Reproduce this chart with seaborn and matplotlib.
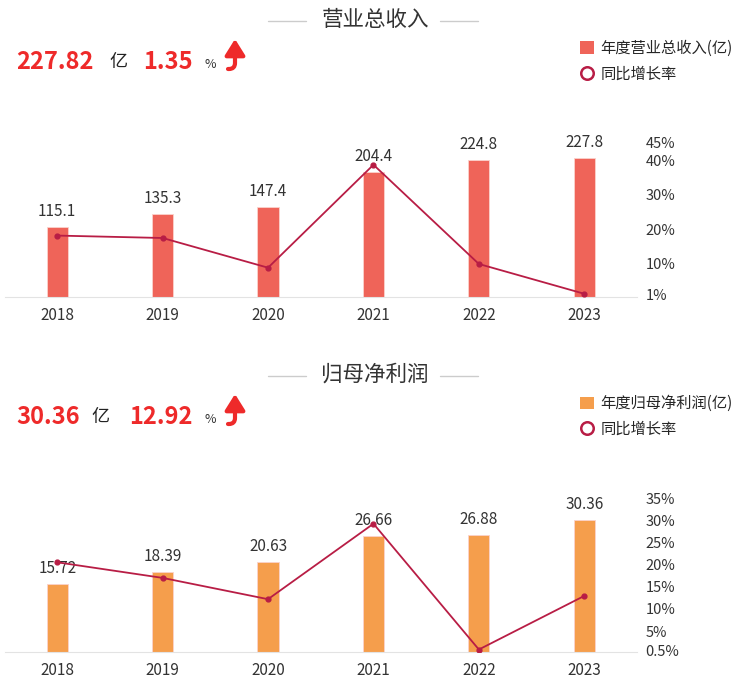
import matplotlib
matplotlib.use("Agg")
import matplotlib.pyplot as plt
from matplotlib.lines import Line2D
from matplotlib.patches import Patch
import seaborn as sns

sns.set_style("white")
plt.rcParams['font.family'] = ['Noto Sans CJK SC', 'DejaVu Sans']

# data
years = ['2018', '2019', '2020', '2021', '2022', '2023']
revenue = [115.1, 135.3, 147.4, 204.4, 224.8, 227.8]
revenue_growth = [18.2, 17.5, 8.9, 38.7, 9.98, 1.35]
revenue_ticks = [1, 10, 20, 30, 40, 45]
profit = [15.72, 18.39, 20.63, 26.66, 26.88, 30.36]
profit_growth = [20.5, 16.98, 12.18, 29.2, 0.83, 12.92]
profit_ticks = [0.5, 5, 10, 15, 20, 25, 30, 35]

W, H = 750, 697
red = '#ee2a2a'
line_color = '#b81d45'


def fx(x):
    return x / W


def fy(y):
    return 1 - y / H


def section(top, title, total, pct, bar_label, bar_color, values, growth,
            ticks, bar_max, growth_lim, fmt):
    # header: title with grey rules
    fig.text(fx(375), fy(top + 20), title, ha='center', va='center',
             fontsize=15.5, color='#333333')
    for x0, x1 in [(268, 306), (440, 478)]:
        fig.add_artist(Line2D([fx(x0), fx(x1)], [fy(top + 21)] * 2,
                              color='#cccccc', lw=1))
    # big numbers
    yc = fy(top + 62)
    fig.text(fx(16), yc, total, ha='left', va='center', fontsize=17,
             fontweight='bold', color=red)
    fig.text(fx(109 if len(total) > 5 else 91), yc, '亿', ha='left',
             va='center', fontsize=13, color='#222222')
    fig.text(fx(193), yc, pct, ha='right', va='center', fontsize=17,
             fontweight='bold', color=red)
    fig.text(fx(204), fy(top + 64), '%', ha='left', va='center',
             fontsize=9, color='#333333')
    # curved up arrow (no installed font has the glyph)
    fig.add_artist(plt.Annotation(
        '', xy=(235, H - top - 39), xytext=(228, H - top - 69),
        xycoords='figure pixels', textcoords='figure pixels',
        arrowprops=dict(arrowstyle='-|>,head_length=0.8,head_width=0.5',
                        connectionstyle='angle,angleA=0,angleB=90,rad=6',
                        color=red, lw=3, mutation_scale=12,
                        shrinkA=0, shrinkB=0)))
    # legend
    handles = [Patch(facecolor=bar_color, edgecolor='none'),
               Line2D([], [], ls='none', marker='o', markersize=9,
                      markerfacecolor='white', markeredgecolor=line_color,
                      markeredgewidth=1.8)]
    fig.legend(handles, [bar_label, '同比增长率'], loc='upper left',
               bbox_to_anchor=(fx(574), fy(top + 34)), frameon=False,
               fontsize=11, handlelength=0.9, handleheight=0.9,
               handletextpad=0.45, labelspacing=0.55, borderaxespad=0)

    # bars
    bottom = top + 297
    ax = fig.add_axes([fx(4.5), fy(bottom), fx(632.5), 154 / H])
    sns.barplot(x=years, y=values, ax=ax, color=bar_color, width=0.2,
                saturation=1, edgecolor='#fbd2cc', linewidth=0.6)
    for i, v in enumerate(values):
        ax.annotate(fmt.format(v), (i, v), xytext=(0, 5),
                    textcoords='offset points', ha='center', va='bottom',
                    fontsize=11, color='#333333')
    ax.set_ylim(0, bar_max)
    ax.set_xlim(-0.5, 5.5)
    ax.set_yticks([])
    ax.set_ylabel('')
    for s in ['top', 'left', 'right']:
        ax.spines[s].set_visible(False)
    ax.spines['bottom'].set_color('#e3e3e3')
    ax.tick_params(axis='x', length=0, pad=7, labelsize=11,
                   labelcolor='#333333')

    # growth line
    ax2 = ax.twinx()
    sns.pointplot(x=years, y=growth, ax=ax2, color=line_color,
                  markers='o', markersize=3.5, linewidth=1.3)
    ax2.set_xlim(-0.5, 5.5)
    ax2.set_ylim(*growth_lim)
    ax2.set_yticks(ticks)
    ax2.set_yticklabels([f'{t:g}%' for t in ticks])
    ax2.tick_params(axis='y', length=0, pad=6, labelsize=10.5,
                    labelcolor='#333333')
    for s in ['top', 'left', 'right', 'bottom']:
        ax2.spines[s].set_visible(False)
    ax2.set_ylabel('')


fig = plt.figure(figsize=(7.5, 6.97), dpi=100)
fig.patch.set_facecolor('white')

section(0, '营业总收入', '227.82', '1.35', '年度营业总收入(亿)', '#ef6459',
        revenue, revenue_growth, revenue_ticks, 252, (0.42, 45), '{:.1f}')
section(355, '归母净利润', '30.36', '12.92', '年度归母净利润(亿)', '#f59e4c',
        profit, profit_growth, profit_ticks, 35.4, (0.27, 35), '{:.2f}')

fig.savefig('out.png', dpi=100)
